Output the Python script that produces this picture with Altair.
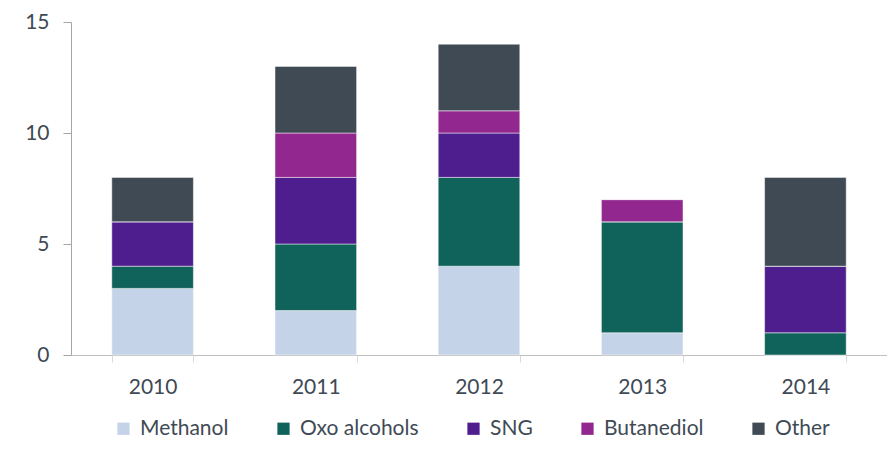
import altair as alt
import pandas as pd

years = ["2010", "2011", "2012", "2013", "2014"]
products = ["Methanol", "Oxo alcohols", "SNG", "Butanediol", "Other"]
methanol = [3, 2, 4, 1, 0]
oxo_alcohols = [1, 3, 4, 5, 1]
sng = [2, 3, 2, 0, 3]
butanediol = [0, 2, 1, 1, 0]
other = [2, 3, 3, 0, 4]
colors = ["#C5D3E8", "#10635A", "#4F1E8E", "#92278F", "#404A54"]

series = [methanol, oxo_alcohols, sng, butanediol, other]
rows = []
for i, (name, vals) in enumerate(zip(products, series)):
    for y, v in zip(years, vals):
        rows.append({"year": y, "product": name, "value": v, "order": i})
df = pd.DataFrame(rows)

FONT = "Lato"
TEXT = "#404A55"

chart = alt.Chart(df).mark_bar(stroke="#ffffff", strokeWidth=0.8, strokeOpacity=0.6).encode(
    x=alt.X("year:N", sort=years,
            scale=alt.Scale(paddingInner=0.5, paddingOuter=0.25),
            axis=alt.Axis(title=None, labelAngle=0, tickBand="extent", ticks=True,
                          tickSize=7, tickColor="#D9D9D9", domainColor="#BFBFBF",
                          labelFontSize=21, labelFont=FONT, labelColor=TEXT,
                          labelPadding=14)),
    y=alt.Y("value:Q", stack="zero",
            scale=alt.Scale(domain=[0, 15], nice=False),
            axis=alt.Axis(title=None, values=[0, 5, 10, 15], grid=False,
                          tickSize=8, tickColor="#A6A6A6", domainColor="#A6A6A6",
                          labelFontSize=21, labelFont=FONT, labelColor=TEXT,
                          labelPadding=14)),
    color=alt.Color("product:N", sort=products,
                    scale=alt.Scale(domain=products, range=colors),
                    legend=alt.Legend(title=None, orient="none", legendX=42, legendY=396,
                                      direction="horizontal", symbolType="square",
                                      symbolSize=150, symbolStrokeWidth=0,
                                      labelFontSize=21, labelFont=FONT, labelColor=TEXT,
                                      labelOffset=6, columnPadding=44, padding=0)),
    order=alt.Order("order:Q", sort="ascending"),
).properties(
    width=816, height=333,
    autosize=alt.AutoSizeParams(type="none"),
    padding={"left": 63, "top": 14, "right": 0, "bottom": 86},
).configure_view(stroke=None)

chart.save("out.html", embed_options={"renderer": "svg", "actions": False})
